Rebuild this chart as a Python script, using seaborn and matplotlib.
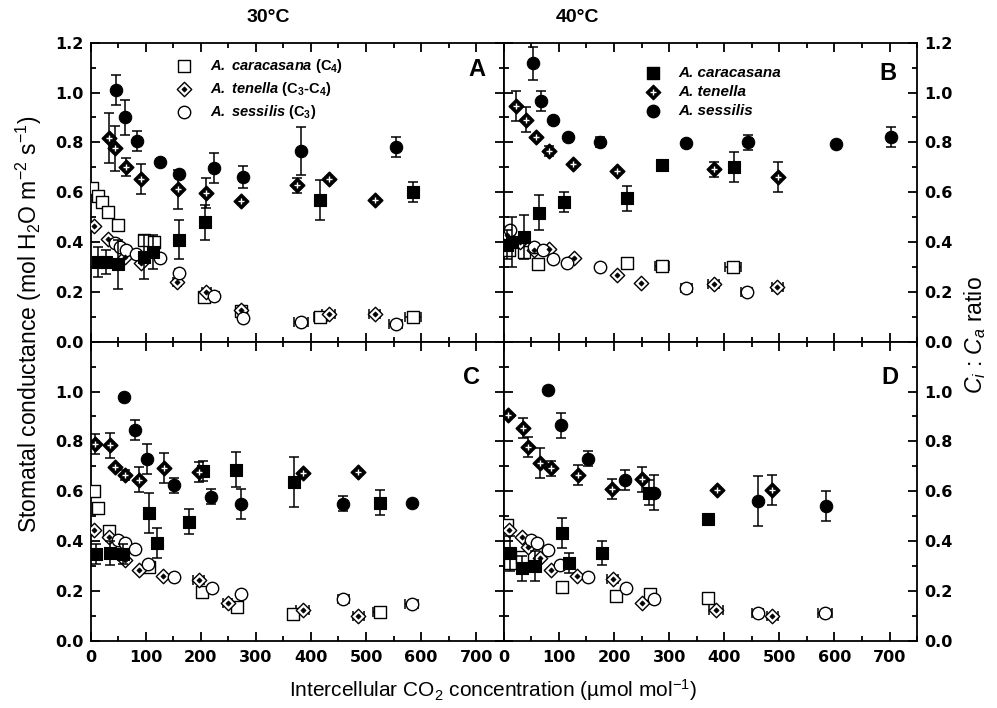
import numpy as np
import matplotlib
matplotlib.use("Agg")
import matplotlib.pyplot as plt
import seaborn as sns
from matplotlib.ticker import MultipleLocator, FuncFormatter
from matplotlib import font_manager

# ---------------- data ----------------
# Panel A (30 C)
A_car_gs_ci = [13, 28, 49, 97, 113, 160, 208, 417, 585]
A_car_gs = [0.32, 0.32, 0.31, 0.34, 0.36, 0.41, 0.48, 0.57, 0.60]
A_car_gs_err = [0.06, 0.05, 0.10, 0.09, 0.07, 0.08, 0.07, 0.08, 0.04]
A_car_r_ci = [2, 13, 21, 31, 50, 97, 115, 206, 273, 417, 585]
A_car_r = [0.615, 0.585, 0.56, 0.52, 0.47, 0.41, 0.40, 0.18, 0.125, 0.10, 0.098]
A_car_r_xerr = [0, 0, 0, 0, 0, 0, 0, 6, 6, 12, 14]

A_ten_gs_ci = [33, 44, 65, 92, 158, 210, 274, 374, 432, 516]
A_ten_gs = [0.816, 0.776, 0.702, 0.653, 0.611, 0.595, 0.566, 0.627, 0.653, 0.569]
A_ten_gs_err = [0.10, 0.09, 0.035, 0.06, 0.08, 0.06, 0.0, 0.03, 0.0, 0.0]
A_ten_r_ci = [7, 31, 62, 91, 157, 210, 273, 432, 516]
A_ten_r = [0.466, 0.414, 0.34, 0.316, 0.241, 0.20, 0.127, 0.111, 0.111]
A_ten_r_xerr = [0, 0, 0, 0, 7, 8, 6, 12, 10]

A_ses_gs_ci = [46, 63, 85, 126, 161, 225, 277, 382, 554]
A_ses_gs = [1.01, 0.90, 0.807, 0.722, 0.672, 0.696, 0.662, 0.765, 0.783]
A_ses_gs_err = [0.06, 0.07, 0.04, 0.0, 0.01, 0.06, 0.045, 0.095, 0.04]
A_ses_r_ci = [44, 53, 65, 83, 127, 160, 225, 276, 382, 554]
A_ses_r = [0.395, 0.381, 0.368, 0.352, 0.335, 0.274, 0.183, 0.094, 0.078, 0.07]
A_ses_r_xerr = [0, 0, 0, 0, 0, 6, 8, 6, 12, 12]

# Panel B (40 C)
B_car_gs_ci = [5, 14, 36, 64, 109, 224, 287, 417]
B_car_gs = [0.39, 0.40, 0.42, 0.518, 0.559, 0.575, 0.709, 0.70]
B_car_gs_err = [0.06, 0.10, 0.09, 0.07, 0.04, 0.05, 0.02, 0.06]
B_car_r_ci = [10, 36, 62, 224, 287, 416]
B_car_r = [0.37, 0.358, 0.31, 0.314, 0.304, 0.298]
B_car_r_xerr = [0, 0, 0, 0, 12, 14]

B_ten_gs_ci = [23, 41, 59, 82, 126, 205, 382, 498]
B_ten_gs = [0.946, 0.890, 0.820, 0.765, 0.713, 0.686, 0.692, 0.660]
B_ten_gs_err = [0.06, 0.05, 0.0, 0.02, 0.0, 0.0, 0.03, 0.06]
B_ten_r_ci = [5, 30, 55, 82, 127, 205, 249, 381, 496]
B_ten_r = [0.43, 0.40, 0.37, 0.372, 0.336, 0.268, 0.234, 0.231, 0.221]
B_ten_r_xerr = [0, 0, 0, 0, 0, 0, 0, 10, 10]

B_ses_gs_ci = [53, 68, 89, 116, 175, 331, 443, 603, 702]
B_ses_gs = [1.117, 0.967, 0.890, 0.823, 0.800, 0.796, 0.800, 0.793, 0.823]
B_ses_gs_err = [0.065, 0.04, 0.0, 0.0, 0.02, 0.0, 0.03, 0.0, 0.04]
B_ses_r_ci = [12, 54, 72, 90, 115, 175, 331, 441]
B_ses_r = [0.448, 0.381, 0.368, 0.333, 0.314, 0.299, 0.214, 0.200]
B_ses_r_xerr = [0, 0, 0, 0, 0, 0, 10, 10]

# Panel C (30 C)
C_car_gs_ci = [10, 36, 59, 107, 121, 179, 205, 264, 370, 525]
C_car_gs = [0.347, 0.352, 0.347, 0.513, 0.393, 0.477, 0.681, 0.686, 0.637, 0.554]
C_car_gs_err = [0.04, 0.05, 0.04, 0.08, 0.06, 0.05, 0.04, 0.07, 0.10, 0.05]
C_car_r_ci = [6, 14, 33, 107, 202, 265, 368, 525]
C_car_r = [0.600, 0.533, 0.441, 0.296, 0.196, 0.134, 0.107, 0.116]
C_car_r_xerr = [0, 0, 0, 0, 0, 0, 8, 12]

C_ten_gs_ci = [8, 36, 44, 63, 88, 133, 196, 385, 486]
C_ten_gs = [0.790, 0.784, 0.697, 0.666, 0.646, 0.694, 0.677, 0.673, 0.677]
C_ten_gs_err = [0.04, 0.05, 0.0, 0.02, 0.05, 0.06, 0.04, 0.0, 0.0]
C_ten_r_ci = [7, 34, 63, 88, 132, 196, 249, 385, 486]
C_ten_r = [0.443, 0.417, 0.323, 0.283, 0.259, 0.243, 0.150, 0.125, 0.100]
C_ten_r_xerr = [0, 0, 0, 0, 0, 10, 8, 12, 10]

C_ses_gs_ci = [60, 80, 103, 151, 219, 274, 459, 583]
C_ses_gs = [0.980, 0.846, 0.728, 0.623, 0.577, 0.550, 0.550, 0.554]
C_ses_gs_err = [0.0, 0.04, 0.06, 0.03, 0.03, 0.06, 0.03, 0.0]
C_ses_r_ci = [50, 62, 80, 105, 152, 220, 274, 459, 583]
C_ses_r = [0.403, 0.393, 0.367, 0.306, 0.254, 0.210, 0.187, 0.166, 0.147]
C_ses_r_xerr = [0, 0, 0, 0, 0, 0, 0, 10, 12]

# Panel D (40 C)
D_car_gs_ci = [12, 33, 57, 106, 119, 179, 263, 371]
D_car_gs = [0.350, 0.290, 0.299, 0.432, 0.312, 0.352, 0.594, 0.490]
D_car_gs_err = [0.07, 0.05, 0.06, 0.06, 0.04, 0.05, 0.05, 0.0]
D_car_r_ci = [5, 12, 33, 106, 204, 265, 370]
D_car_r = [0.463, 0.31, 0.334, 0.216, 0.180, 0.187, 0.172]
D_car_r_xerr = [0, 0, 0, 0, 0, 0, 0]

D_ten_gs_ci = [7, 35, 44, 65, 86, 134, 196, 251, 387, 487]
D_ten_gs = [0.904, 0.853, 0.777, 0.713, 0.693, 0.664, 0.610, 0.648, 0.606, 0.606]
D_ten_gs_err = [0.0, 0.04, 0.04, 0.06, 0.03, 0.04, 0.04, 0.05, 0.0, 0.06]
D_ten_r_ci = [9, 33, 44, 65, 86, 133, 198, 250, 385, 487]
D_ten_r = [0.446, 0.417, 0.376, 0.33, 0.283, 0.259, 0.246, 0.152, 0.123, 0.100]
D_ten_r_xerr = [0, 0, 0, 0, 0, 0, 10, 0, 12, 10]

D_ses_gs_ci = [80, 103, 152, 220, 272, 461, 585]
D_ses_gs = [1.007, 0.864, 0.730, 0.644, 0.594, 0.561, 0.541]
D_ses_gs_err = [0.0, 0.05, 0.03, 0.04, 0.07, 0.10, 0.06]
D_ses_r_ci = [50, 60, 80, 102, 152, 221, 273, 461, 583]
D_ses_r = [0.403, 0.393, 0.366, 0.303, 0.254, 0.210, 0.166, 0.112, 0.112]
D_ses_r_xerr = [0, 0, 0, 0, 0, 0, 0, 10, 12]

panel_letters = ["A", "B", "C", "D"]
temperatures = ["30°C", "40°C"]
legend_open = [r"$\mathbfit{A.\ caracasana}$ (C$_\mathbf{4}$)",
               r"$\mathbfit{A.\ tenella}$ (C$_\mathbf{3}$-C$_\mathbf{4}$)",
               r"$\mathbfit{A.\ sessilis}$ (C$_\mathbf{3}$)"]
legend_filled = ["A. caracasana", "A. tenella", "A. sessilis"]

# ---------------- style ----------------
sns.set_theme(style="ticks")
plt.rcParams['font.family'] = ['Liberation Sans', 'DejaVu Sans']
plt.rcParams['text.color'] = 'black'
plt.rcParams['axes.labelcolor'] = 'black'
plt.rcParams['xtick.color'] = 'black'
plt.rcParams['ytick.color'] = 'black'
plt.rcParams['mathtext.fontset'] = 'custom'
plt.rcParams['mathtext.rm'] = 'Liberation Sans'
plt.rcParams['mathtext.it'] = 'Liberation Sans:italic'
plt.rcParams['mathtext.bf'] = 'Liberation Sans:bold'
if 'mathtext.bfit' in plt.rcParams:
    plt.rcParams['mathtext.bfit'] = 'Liberation Sans:italic:bold'

_names = {f.name for f in font_manager.fontManager.ttflist}
if 'Liberation Sans Narrow' in _names:
    TITLE_FAMILY, TITLE_FS = ['Liberation Sans Narrow', 'DejaVu Sans'], 16
else:
    TITLE_FAMILY, TITLE_FS = ['Liberation Sans', 'DejaVu Sans'], 14

W, H = 997, 708
fig = plt.figure(figsize=(W / 100, H / 100), dpi=100)
xl, xm, xr = 90.5, 503.8, 917.1
yt, ym, yb = 42.7, 341.7, 640.7


def rect(x0, x1, y0, y1):
    return [x0 / W, 1 - y1 / H, (x1 - x0) / W, (y1 - y0) / H]


axA = fig.add_axes(rect(xl, xm, yt, ym))
axB = fig.add_axes(rect(xm, xr, yt, ym))
axC = fig.add_axes(rect(xl, xm, ym, yb))
axD = fig.add_axes(rect(xm, xr, ym, yb))
boxes = {axA: (xl, xm, yt, ym), axB: (xm, xr, yt, ym),
         axC: (xl, xm, ym, yb), axD: (xm, xr, ym, yb)}


def to_axes(ax, px, py):
    x0, x1, y0, y1 = boxes[ax]
    return (px - x0) / (x1 - x0), (y1 - py) / (y1 - y0)


MS_CIRC, MS_SQ, MS_DIA = 80, 76, 54


def errbars(ax, x, y, xerr=None, yerr=None, z=2):
    x = np.asarray(x, float); y = np.asarray(y, float)
    if yerr is not None:
        e = np.asarray(yerr, float); m = e > 0
        if m.any():
            ax.errorbar(x[m], y[m], yerr=e[m], fmt='none', ecolor='black',
                        elinewidth=1.1, capsize=3.3, capthick=1.1, zorder=z)
    if xerr is not None:
        e = np.asarray(xerr, float); m = e > 0
        if m.any():
            ax.errorbar(x[m], y[m], xerr=e[m], fmt='none', ecolor='black',
                        elinewidth=1.1, capsize=3.3, capthick=1.1, zorder=z)


def draw_panel(ax, car, ten, ses):
    (cgx, cg, cge, crx, cr, crxe) = car
    (tgx, tg, tge, trx, tr, trxe) = ten
    (sgx, sg, sge, srx, sr, srxe) = ses
    # Ci:Ca ratio (open symbols)
    errbars(ax, crx, cr, xerr=crxe, z=2)
    errbars(ax, trx, tr, xerr=trxe, z=2)
    errbars(ax, srx, sr, xerr=srxe, z=2)
    sns.scatterplot(x=crx, y=cr, marker='s', s=MS_SQ, color='white', edgecolor='black',
                    linewidth=1.0, ax=ax, zorder=3, legend=False)
    sns.scatterplot(x=trx, y=tr, marker='D', s=MS_DIA, color='white', edgecolor='black',
                    linewidth=1.0, ax=ax, zorder=3, legend=False)
    sns.scatterplot(x=trx, y=tr, marker='D', s=7, color='black', edgecolor='black',
                    linewidth=0.5, ax=ax, zorder=3.1, legend=False)
    sns.scatterplot(x=srx, y=sr, marker='o', s=MS_CIRC, color='white', edgecolor='black',
                    linewidth=1.0, ax=ax, zorder=3, legend=False)
    # stomatal conductance (filled symbols)
    errbars(ax, cgx, cg, yerr=cge, z=4)
    errbars(ax, tgx, tg, yerr=tge, z=4)
    errbars(ax, sgx, sg, yerr=sge, z=4)
    sns.scatterplot(x=cgx, y=cg, marker='s', s=MS_SQ, color='black', edgecolor='black',
                    linewidth=0.8, ax=ax, zorder=5, legend=False)
    sns.scatterplot(x=tgx, y=tg, marker='D', s=MS_DIA, color='black', edgecolor='black',
                    linewidth=1.2, ax=ax, zorder=5, legend=False)
    sns.scatterplot(x=tgx, y=tg, marker='+', s=13, color='white',
                    linewidth=1.0, ax=ax, zorder=5.1, legend=False)
    sns.scatterplot(x=sgx, y=sg, marker='o', s=MS_CIRC, color='black', edgecolor='black',
                    linewidth=0.8, ax=ax, zorder=5, legend=False)


draw_panel(axA,
           (A_car_gs_ci, A_car_gs, A_car_gs_err, A_car_r_ci, A_car_r, A_car_r_xerr),
           (A_ten_gs_ci, A_ten_gs, A_ten_gs_err, A_ten_r_ci, A_ten_r, A_ten_r_xerr),
           (A_ses_gs_ci, A_ses_gs, A_ses_gs_err, A_ses_r_ci, A_ses_r, A_ses_r_xerr))
draw_panel(axB,
           (B_car_gs_ci, B_car_gs, B_car_gs_err, B_car_r_ci, B_car_r, B_car_r_xerr),
           (B_ten_gs_ci, B_ten_gs, B_ten_gs_err, B_ten_r_ci, B_ten_r, B_ten_r_xerr),
           (B_ses_gs_ci, B_ses_gs, B_ses_gs_err, B_ses_r_ci, B_ses_r, B_ses_r_xerr))
draw_panel(axC,
           (C_car_gs_ci, C_car_gs, C_car_gs_err, C_car_r_ci, C_car_r, C_car_r_xerr),
           (C_ten_gs_ci, C_ten_gs, C_ten_gs_err, C_ten_r_ci, C_ten_r, C_ten_r_xerr),
           (C_ses_gs_ci, C_ses_gs, C_ses_gs_err, C_ses_r_ci, C_ses_r, C_ses_r_xerr))
draw_panel(axD,
           (D_car_gs_ci, D_car_gs, D_car_gs_err, D_car_r_ci, D_car_r, D_car_r_xerr),
           (D_ten_gs_ci, D_ten_gs, D_ten_gs_err, D_ten_r_ci, D_ten_r, D_ten_r_xerr),
           (D_ses_gs_ci, D_ses_gs, D_ses_gs_err, D_ses_r_ci, D_ses_r, D_ses_r_xerr))

TICK_FS = 11.5
for ax in (axA, axB, axC, axD):
    ax.set_xlim(0, 750)
    ax.set_ylim(0, 1.2)
    ax.set_xlabel('')
    ax.set_ylabel('')
    ax.xaxis.set_major_locator(MultipleLocator(100))
    ax.xaxis.set_minor_locator(MultipleLocator(50))
    ax.yaxis.set_major_locator(MultipleLocator(0.2))
    ax.yaxis.set_minor_locator(MultipleLocator(0.1))
    ax.tick_params(which='both', direction='in', top=True, bottom=True,
                   left=True, right=True, width=1.3, color='black',
                   labelsize=TICK_FS, labelcolor='black')
    ax.tick_params(which='major', length=6.5)
    ax.tick_params(which='minor', length=3.5)
    ax.tick_params(axis='x', pad=7)
    ax.tick_params(axis='y', pad=5)
    for sp in ax.spines.values():
        sp.set_linewidth(1.3)
        sp.set_color('black')
    ax.xaxis.set_major_formatter(FuncFormatter(lambda v, p: f"{v:.0f}"))

top_fmt = FuncFormatter(lambda v, p: f"{v:.1f}")
bot_fmt = FuncFormatter(lambda v, p: '' if v > 1.15 else f"{v:.1f}")
axA.yaxis.set_major_formatter(top_fmt)
axB.yaxis.set_major_formatter(top_fmt)
axC.yaxis.set_major_formatter(bot_fmt)
axD.yaxis.set_major_formatter(bot_fmt)

axA.tick_params(labelbottom=False, labelleft=True, labelright=False)
axB.tick_params(labelbottom=False, labelleft=False, labelright=True)
axC.tick_params(labelbottom=True, labelleft=True, labelright=False)
axD.tick_params(labelbottom=True, labelleft=False, labelright=True)

for ax in (axA, axB, axC, axD):
    for lab in ax.get_xticklabels() + ax.get_yticklabels():
        lab.set_fontweight('bold')
        lab.set_fontfamily(['DejaVu Sans'])

# panel letters
letter_pos = [(axA, 476.7, 70), (axB, 888, 73), (axC, 471, 377), (axD, 890, 377)]
for (ax, px, py), L in zip(letter_pos, panel_letters):
    fx, fy = to_axes(ax, px, py)
    ax.text(fx, fy, L, transform=ax.transAxes, ha='center', va='center',
            fontsize=17, fontweight='bold')

# legend A (open symbols: Ci:Ca)
rowsA = [66, 89.3, 111.7]
mk_open = [('s', MS_SQ), ('D', MS_DIA), ('o', MS_CIRC)]
for i, (py, lab) in enumerate(zip(rowsA, legend_open)):
    fx, fy = to_axes(axA, 184, py)
    m, s = mk_open[i]
    axA.scatter([fx], [fy], marker=m, s=s, facecolor='white', edgecolor='black',
                linewidth=1.0, transform=axA.transAxes, zorder=6, clip_on=False)
    if m == 'D':
        axA.scatter([fx], [fy], marker='D', s=7, facecolor='black', edgecolor='black',
                    linewidth=0.5, transform=axA.transAxes, zorder=6.1, clip_on=False)
    tx, _ = to_axes(axA, 210, py)
    axA.text(tx, fy, lab, transform=axA.transAxes, ha='left', va='center',
             fontsize=10.5, fontweight='bold')

# legend B (filled symbols: gs)
rowsB = [73.3, 92, 110.7]
mk_fill = [('s', MS_SQ), ('D', MS_DIA), ('o', MS_CIRC)]
for i, (py, lab) in enumerate(zip(rowsB, legend_filled)):
    fx, fy = to_axes(axB, 653, py)
    m, s = mk_fill[i]
    axB.scatter([fx], [fy], marker=m, s=s, facecolor='black', edgecolor='black',
                linewidth=1.0, transform=axB.transAxes, zorder=6, clip_on=False)
    if m == 'D':
        axB.scatter([fx], [fy], marker='+', s=13, color='white', linewidth=1.0,
                    transform=axB.transAxes, zorder=6.1, clip_on=False)
    tx, _ = to_axes(axB, 678, py)
    axB.text(tx, fy, lab, transform=axB.transAxes, ha='left', va='center',
             fontsize=11, fontweight='bold', fontstyle='italic')

# titles and axis labels
fig.text(268 / W, 1 - 18 / H, temperatures[0], ha='center', va='center',
         fontsize=TITLE_FS, fontweight='bold', family=TITLE_FAMILY)
fig.text(577 / W, 1 - 18 / H, temperatures[1], ha='center', va='center',
         fontsize=TITLE_FS, fontweight='bold', family=TITLE_FAMILY)
fig.text(28.5 / W, 1 - 324 / H,
         r"Stomatal conductance (mol H$_2$O m$^{-2}$ s$^{-1}$)",
         rotation=90, ha='center', va='center', fontsize=16.5)
fig.text(975 / W, 1 - 335 / H, r"$C_i$ : $C_a$ ratio",
         rotation=90, ha='center', va='center', fontsize=16.5)
fig.text(492.5 / W, 1 - 690 / H,
         r"Intercellular CO$_2$ concentration (µmol mol$^{-1}$)",
         ha='center', va='center', fontsize=15)

fig.savefig("out.png", dpi=100)
